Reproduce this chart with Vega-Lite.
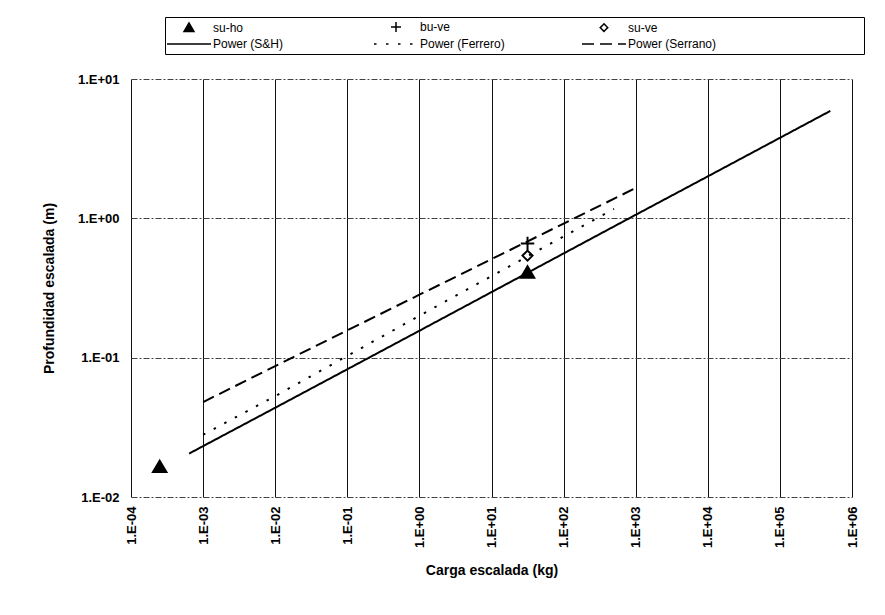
{
  "$schema": "https://vega.github.io/schema/vega-lite/v6.json",
  "width": 721,
  "height": 418,
  "autosize": {"type": "none"},
  "padding": {"left": 131, "top": 79, "right": 33, "bottom": 118},
  "background": "white",
  "config": {
    "view": {"stroke": null},
    "font": "Liberation Sans",
    "axis": {"labelFont": "Liberation Sans", "titleFont": "Liberation Sans", "labelColor": "black", "titleColor": "black"}
  },
  "data": {
    "values": [
      {"series": "su-ho", "kind": "point", "x": 0.00025, "y": 0.0165},
      {"series": "su-ho", "kind": "point", "x": 31.6, "y": 0.41},
      {"series": "bu-ve", "kind": "point", "x": 31.6, "y": 0.66},
      {"series": "su-ve", "kind": "point", "x": 31.6, "y": 0.54},
      {"series": "Power (S&H)", "kind": "line", "x": 0.00064, "y": 0.0205},
      {"series": "Power (S&H)", "kind": "line", "x": 0.01, "y": 0.0437},
      {"series": "Power (S&H)", "kind": "line", "x": 1, "y": 0.156},
      {"series": "Power (S&H)", "kind": "line", "x": 1000, "y": 1.06},
      {"series": "Power (S&H)", "kind": "line", "x": 10000, "y": 2.0},
      {"series": "Power (S&H)", "kind": "line", "x": 500000, "y": 5.9},
      {"series": "Power (Ferrero)", "kind": "line", "x": 0.001, "y": 0.028},
      {"series": "Power (Ferrero)", "kind": "line", "x": 0.01, "y": 0.053},
      {"series": "Power (Ferrero)", "kind": "line", "x": 1, "y": 0.2},
      {"series": "Power (Ferrero)", "kind": "line", "x": 500, "y": 1.17},
      {"series": "Power (Serrano)", "kind": "line", "x": 0.001, "y": 0.048},
      {"series": "Power (Serrano)", "kind": "line", "x": 0.01, "y": 0.087},
      {"series": "Power (Serrano)", "kind": "line", "x": 1, "y": 0.283},
      {"series": "Power (Serrano)", "kind": "line", "x": 1000, "y": 1.65}
    ]
  },
  "encoding": {
    "x": {
      "field": "x", "type": "quantitative",
      "scale": {"type": "log", "domain": [0.0001, 1000000]},
      "axis": {
        "values": [0.0001, 0.001, 0.01, 0.1, 1, 10, 100, 1000, 10000, 100000, 1000000],
        "labelExpr": "'1.E' + (datum.value >= 1 ? '+' : '-') + (abs(round(log(datum.value)/LN10)) < 10 ? '0' : '') + abs(round(log(datum.value)/LN10))",
        "labelAngle": -90, "labelAlign": "right", "labelBaseline": "middle",
        "labelFontSize": 13, "labelFontWeight": "bold", "labelPadding": 9, "labelFlush": false, "labelOverlap": false,
        "ticks": false, "domain": false,
        "grid": true, "gridColor": "#111111", "gridWidth": 1, "gridOpacity": 1,
        "title": "Carga escalada (kg)", "titleFontSize": 14, "titleFontWeight": "bold", "titlePadding": 16
      }
    },
    "y": {
      "field": "y", "type": "quantitative",
      "scale": {"type": "log", "domain": [0.01, 10]},
      "axis": {
        "values": [0.01, 0.1, 1, 10],
        "labelExpr": "'1.E' + (datum.value >= 1 ? '+' : '-') + (abs(round(log(datum.value)/LN10)) < 10 ? '0' : '') + abs(round(log(datum.value)/LN10))",
        "labelFontSize": 13, "labelFontWeight": "bold", "labelPadding": 12, "labelFlush": false, "labelOverlap": false,
        "ticks": false, "domain": false,
        "grid": true, "gridColor": "#444444", "gridWidth": 1, "gridOpacity": 1, "gridDash": [6, 2, 2, 2],
        "title": "Profundidad escalada (m)", "titleFontSize": 14, "titleFontWeight": "bold", "titlePadding": 21
      }
    }
  },
  "layer": [
    {
      "transform": [{"filter": "datum.kind === 'line'"}],
      "mark": {"type": "line", "color": "black", "strokeWidth": 2},
      "encoding": {
        "strokeDash": {
          "field": "series", "type": "nominal",
          "scale": {
            "domain": ["su-ho", "bu-ve", "su-ve", "Power (S&H)", "Power (Ferrero)", "Power (Serrano)"],
            "range": [[1, 0], [1, 0], [1, 0], [1, 0], [2.5, 9.5], [12, 6]]
          },
          "legend": {
            "title": null, "orient": "none", "legendX": 34, "legendY": -62,
            "direction": "horizontal", "columns": 3, "gridAlign": "each", "columnPadding": 74, "rowPadding": 3,
            "symbolSize": 100, "symbolOffset": 14, "labelOffset": 18, "labelLimit": 400,
            "labelFontSize": 12, "labelFont": "Liberation Sans", "labelColor": "black",
            "labelExpr": "datum.value === 'Power (S&H)' ? datum.label + '\u00a0\u00a0\u00a0\u00a0\u200b' : datum.value === 'Power (Serrano)' ? datum.label + '\u00a0\u00a0\u00a0\u00a0\u00a0\u00a0\u00a0\u00a0\u00a0\u00a0\u00a0\u00a0\u00a0\u00a0\u00a0\u00a0\u00a0\u00a0\u00a0\u00a0\u00a0\u00a0\u00a0\u00a0\u00a0\u00a0\u00a0\u00a0\u00a0\u00a0\u00a0\u00a0\u00a0\u00a0\u00a0\u00a0\u00a0\u00a0\u00a0\u00a0\u00a0\u00a0\u00a0\u200b' : datum.label",
            "strokeColor": "black", "padding": 4,
            "encode": {
              "symbols": {
                "update": {
                  "fill": {"signal": "datum.value === 'su-ho' ? 'black' : 'transparent'"},
                  "stroke": {"value": "black"},
                  "strokeWidth": {"signal": "datum.value === 'su-ve' || datum.value === 'Power (Ferrero)' ? 2.5 : 1.8"},
                  "strokeDash": {"signal": "datum.value === 'Power (Ferrero)' ? [2, 5] : datum.value === 'Power (Serrano)' ? [9, 4] : [1, 0]"}
                }
              }
            }
          }
        }
      }
    },
    {
      "transform": [{"filter": "datum.kind === 'point'"}],
      "mark": {"type": "point", "filled": false, "size": 180, "stroke": "black", "strokeWidth": 2, "opacity": 1},
      "encoding": {
        "shape": {
          "field": "series", "type": "nominal",
          "scale": {
            "domain": ["su-ho", "bu-ve", "su-ve", "Power (S&H)", "Power (Ferrero)", "Power (Serrano)"],
            "range": ["M0,-0.9L1,0.8L-1,0.8Z", "M-1,0H1M0,-1V1", "M0,-0.75L0.75,0L0,0.75L-0.75,0Z", "M-4.4,0H4.4", "M-4.4,0H4.4", "M-4.4,0H4.4"]
          },
          "legend": {
            "title": null, "orient": "none", "legendX": 34, "legendY": -62,
            "direction": "horizontal", "columns": 3, "gridAlign": "each", "columnPadding": 74, "rowPadding": 3,
            "symbolSize": 100, "symbolOffset": 14, "labelOffset": 18, "labelLimit": 400,
            "labelFontSize": 12, "labelFont": "Liberation Sans", "labelColor": "black",
            "labelExpr": "datum.value === 'Power (S&H)' ? datum.label + '\u00a0\u00a0\u00a0\u00a0\u200b' : datum.value === 'Power (Serrano)' ? datum.label + '\u00a0\u00a0\u00a0\u00a0\u00a0\u00a0\u00a0\u00a0\u00a0\u00a0\u00a0\u00a0\u00a0\u00a0\u00a0\u00a0\u00a0\u00a0\u00a0\u00a0\u00a0\u00a0\u00a0\u00a0\u00a0\u00a0\u00a0\u00a0\u00a0\u00a0\u00a0\u00a0\u00a0\u00a0\u00a0\u00a0\u00a0\u00a0\u00a0\u00a0\u00a0\u00a0\u00a0\u200b' : datum.label",
            "strokeColor": "black", "padding": 4,
            "encode": {
              "symbols": {
                "update": {
                  "fill": {"signal": "datum.value === 'su-ho' ? 'black' : 'transparent'"},
                  "stroke": {"value": "black"},
                  "strokeWidth": {"signal": "datum.value === 'su-ve' || datum.value === 'Power (Ferrero)' ? 2.5 : 1.8"},
                  "strokeDash": {"signal": "datum.value === 'Power (Ferrero)' ? [2, 5] : datum.value === 'Power (Serrano)' ? [9, 4] : [1, 0]"}
                }
              }
            }
          }
        },
        "fill": {
          "field": "series", "type": "nominal",
          "scale": {
            "domain": ["su-ho", "bu-ve", "su-ve", "Power (S&H)", "Power (Ferrero)", "Power (Serrano)"],
            "range": ["black", "transparent", "transparent", "transparent", "transparent", "transparent"]
          },
          "legend": null
        }
      }
    }
  ]
}
